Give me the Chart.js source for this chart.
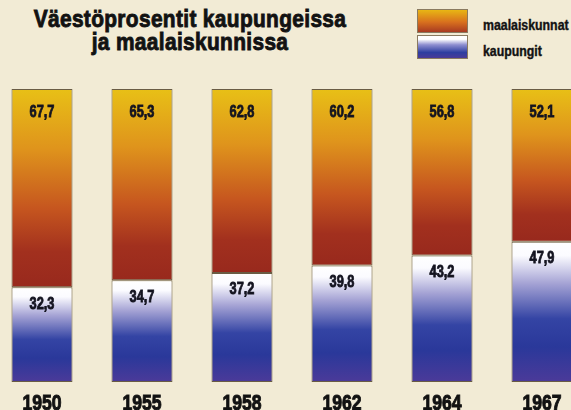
<!DOCTYPE html>
<html lang="fi">
<head>
<meta charset="utf-8">
<title>Väestöprosentit kaupungeissa ja maalaiskunnissa</title>
<script src="https://cdn.jsdelivr.net/npm/chart.js@4.4.1/dist/chart.umd.min.js"></script>
<style>
  html, body {
    margin: 0;
    padding: 0;
    width: 571px;
    height: 410px;
    overflow: hidden;
    background: #f2ebd5;
  }
  body {
    position: relative;
    font-family: "Liberation Sans", Arial, sans-serif;
    font-weight: bold;
    color: #121212;
  }
  #chartBox {
    position: absolute;
    left: -8px;
    top: 0;
    width: 600px;
    height: 420px;
  }
  #title {
    position: absolute;
    left: 0;
    top: 7px;
    width: 380px;
    text-align: center;
    font-size: 24px;
    line-height: 23px;
    letter-spacing: 0.4px;
    white-space: nowrap;
    transform: scaleX(0.87);
    transform-origin: 190px 0;
    -webkit-text-stroke: 0.9px #121212;
  }
  .swatch {
    position: absolute;
    left: 417px;
    width: 51px;
    height: 24px;
    border: 1px solid #8a7a60;
    box-sizing: border-box;
  }
  .legend-label {
    position: absolute;
    left: 483px;
    font-size: 14px;
    line-height: 16px;
    white-space: nowrap;
    transform: scaleX(0.88);
    transform-origin: 0 0;
    -webkit-text-stroke: 0.4px #121212;
  }
</style>
</head>
<body>
<div id="title">Väestöprosentit kaupungeissa<br>ja maalaiskunnissa</div>

<div class="swatch" style="top: 9px; background: linear-gradient(#e8b614, #d8701e 55%, #a83a22);"></div>
<div class="legend-label" style="top: 17px;">maalaiskunnat</div>
<div class="swatch" style="top: 35px; background: linear-gradient(#ffffff, #ffffff 15%, #8e8ed0 40%, #2e3ea0 75%, #4a3a98);"></div>
<div class="legend-label" style="top: 43px;">kaupungit</div>

<div id="chartBox">
  <canvas id="popChart" width="600" height="420"></canvas>
</div>

<script>
// Data
const years = ['1950', '1955', '1958', '1962', '1964', '1967'];
const kaupungit = [32.3, 34.7, 37.2, 39.8, 43.2, 47.9];
const maalaiskunnat = [67.7, 65.3, 62.8, 60.2, 56.8, 52.1];

const fontFamily = '"Liberation Sans", Arial, sans-serif';

function formatValue(v) {
  return v.toFixed(1).replace('.', ',');
}

// Gradient for one stacked segment, built from the y scale
function segmentGradient(context, stops, fallback) {
  const chart = context.chart;
  const yScale = chart.scales.y;
  if (!chart.chartArea || !yScale || context.dataIndex === undefined) {
    return fallback;
  }
  const i = context.dataIndex;
  let top, bottom;
  if (context.datasetIndex === 0) {
    top = yScale.getPixelForValue(kaupungit[i]);
    bottom = yScale.getPixelForValue(0);
  } else {
    top = yScale.getPixelForValue(kaupungit[i] + maalaiskunnat[i]);
    bottom = yScale.getPixelForValue(kaupungit[i]);
  }
  const g = chart.ctx.createLinearGradient(0, top, 0, bottom);
  stops.forEach(s => g.addColorStop(s[0], s[1]));
  return g;
}

const ruralStops = [
  [0, '#e8c016'],
  [0.3, '#df941c'],
  [0.6, '#c6561f'],
  [0.82, '#a2301e'],
  [1, '#98291d']
];

const cityStops = [
  [0, '#ffffff'],
  [0.1, '#fbfbff'],
  [0.3, '#a4a2d4'],
  [0.55, '#3444a4'],
  [0.75, '#2a389a'],
  [1, '#4b3a99']
];

// Draw narrow bold text centered at x
function narrowText(ctx, text, x, y, squeeze) {
  ctx.save();
  ctx.translate(x, y);
  ctx.scale(squeeze, 1);
  ctx.fillText(text, 0, 0);
  ctx.strokeText(text, 0, 0);
  ctx.restore();
}

// Value labels inside each segment and year labels under the bars
const barLabels = {
  id: 'barLabels',
  afterDatasetsDraw(chart) {
    const ctx = chart.ctx;
    const xScale = chart.scales.x;
    ctx.save();
    ctx.fillStyle = '#141420';
    ctx.strokeStyle = '#141420';
    ctx.lineWidth = 0.8;
    ctx.textAlign = 'center';
    ctx.textBaseline = 'middle';
    ctx.font = 'bold 16px ' + fontFamily;
    chart.data.datasets.forEach((ds, di) => {
      const meta = chart.getDatasetMeta(di);
      meta.data.forEach((bar, i) => {
        const offset = di === 0 ? 17 : 23.5;
        narrowText(ctx, formatValue(ds.data[i]), bar.x, bar.y + offset, 0.8);
      });
    });
    ctx.fillStyle = '#121212';
    ctx.strokeStyle = '#121212';
    ctx.lineWidth = 1;
    ctx.textBaseline = 'alphabetic';
    ctx.font = 'bold 22px ' + fontFamily;
    years.forEach((yr, i) => {
      narrowText(ctx, yr, xScale.getPixelForValue(i), chart.chartArea.bottom + 28, 0.8);
    });
    ctx.restore();
  }
};

const chart = new Chart(document.getElementById('popChart'), {
  type: 'bar',
  data: {
    labels: years,
    datasets: [
      {
        label: 'kaupungit',
        data: kaupungit,
        backgroundColor: c => segmentGradient(c, cityStops, '#2e3ea0'),
        borderColor: '#6a5c44',
        borderWidth: 1,
        borderSkipped: false,
        barPercentage: 0.61,
        categoryPercentage: 1
      },
      {
        label: 'maalaiskunnat',
        data: maalaiskunnat,
        backgroundColor: c => segmentGradient(c, ruralStops, '#d8701e'),
        borderColor: '#6a5c44',
        borderWidth: 1,
        borderSkipped: false,
        barPercentage: 0.61,
        categoryPercentage: 1
      }
    ]
  },
  options: {
    responsive: false,
    animation: false,
    layout: {
      padding: { top: 89, left: 0, right: 0, bottom: 38 }
    },
    scales: {
      x: {
        stacked: true,
        display: false
      },
      y: {
        stacked: true,
        display: false,
        min: 0,
        max: 100
      }
    },
    plugins: {
      legend: { display: false },
      title: { display: false },
      tooltip: { enabled: false }
    }
  },
  plugins: [barLabels]
});
</script>
</body>
</html>
